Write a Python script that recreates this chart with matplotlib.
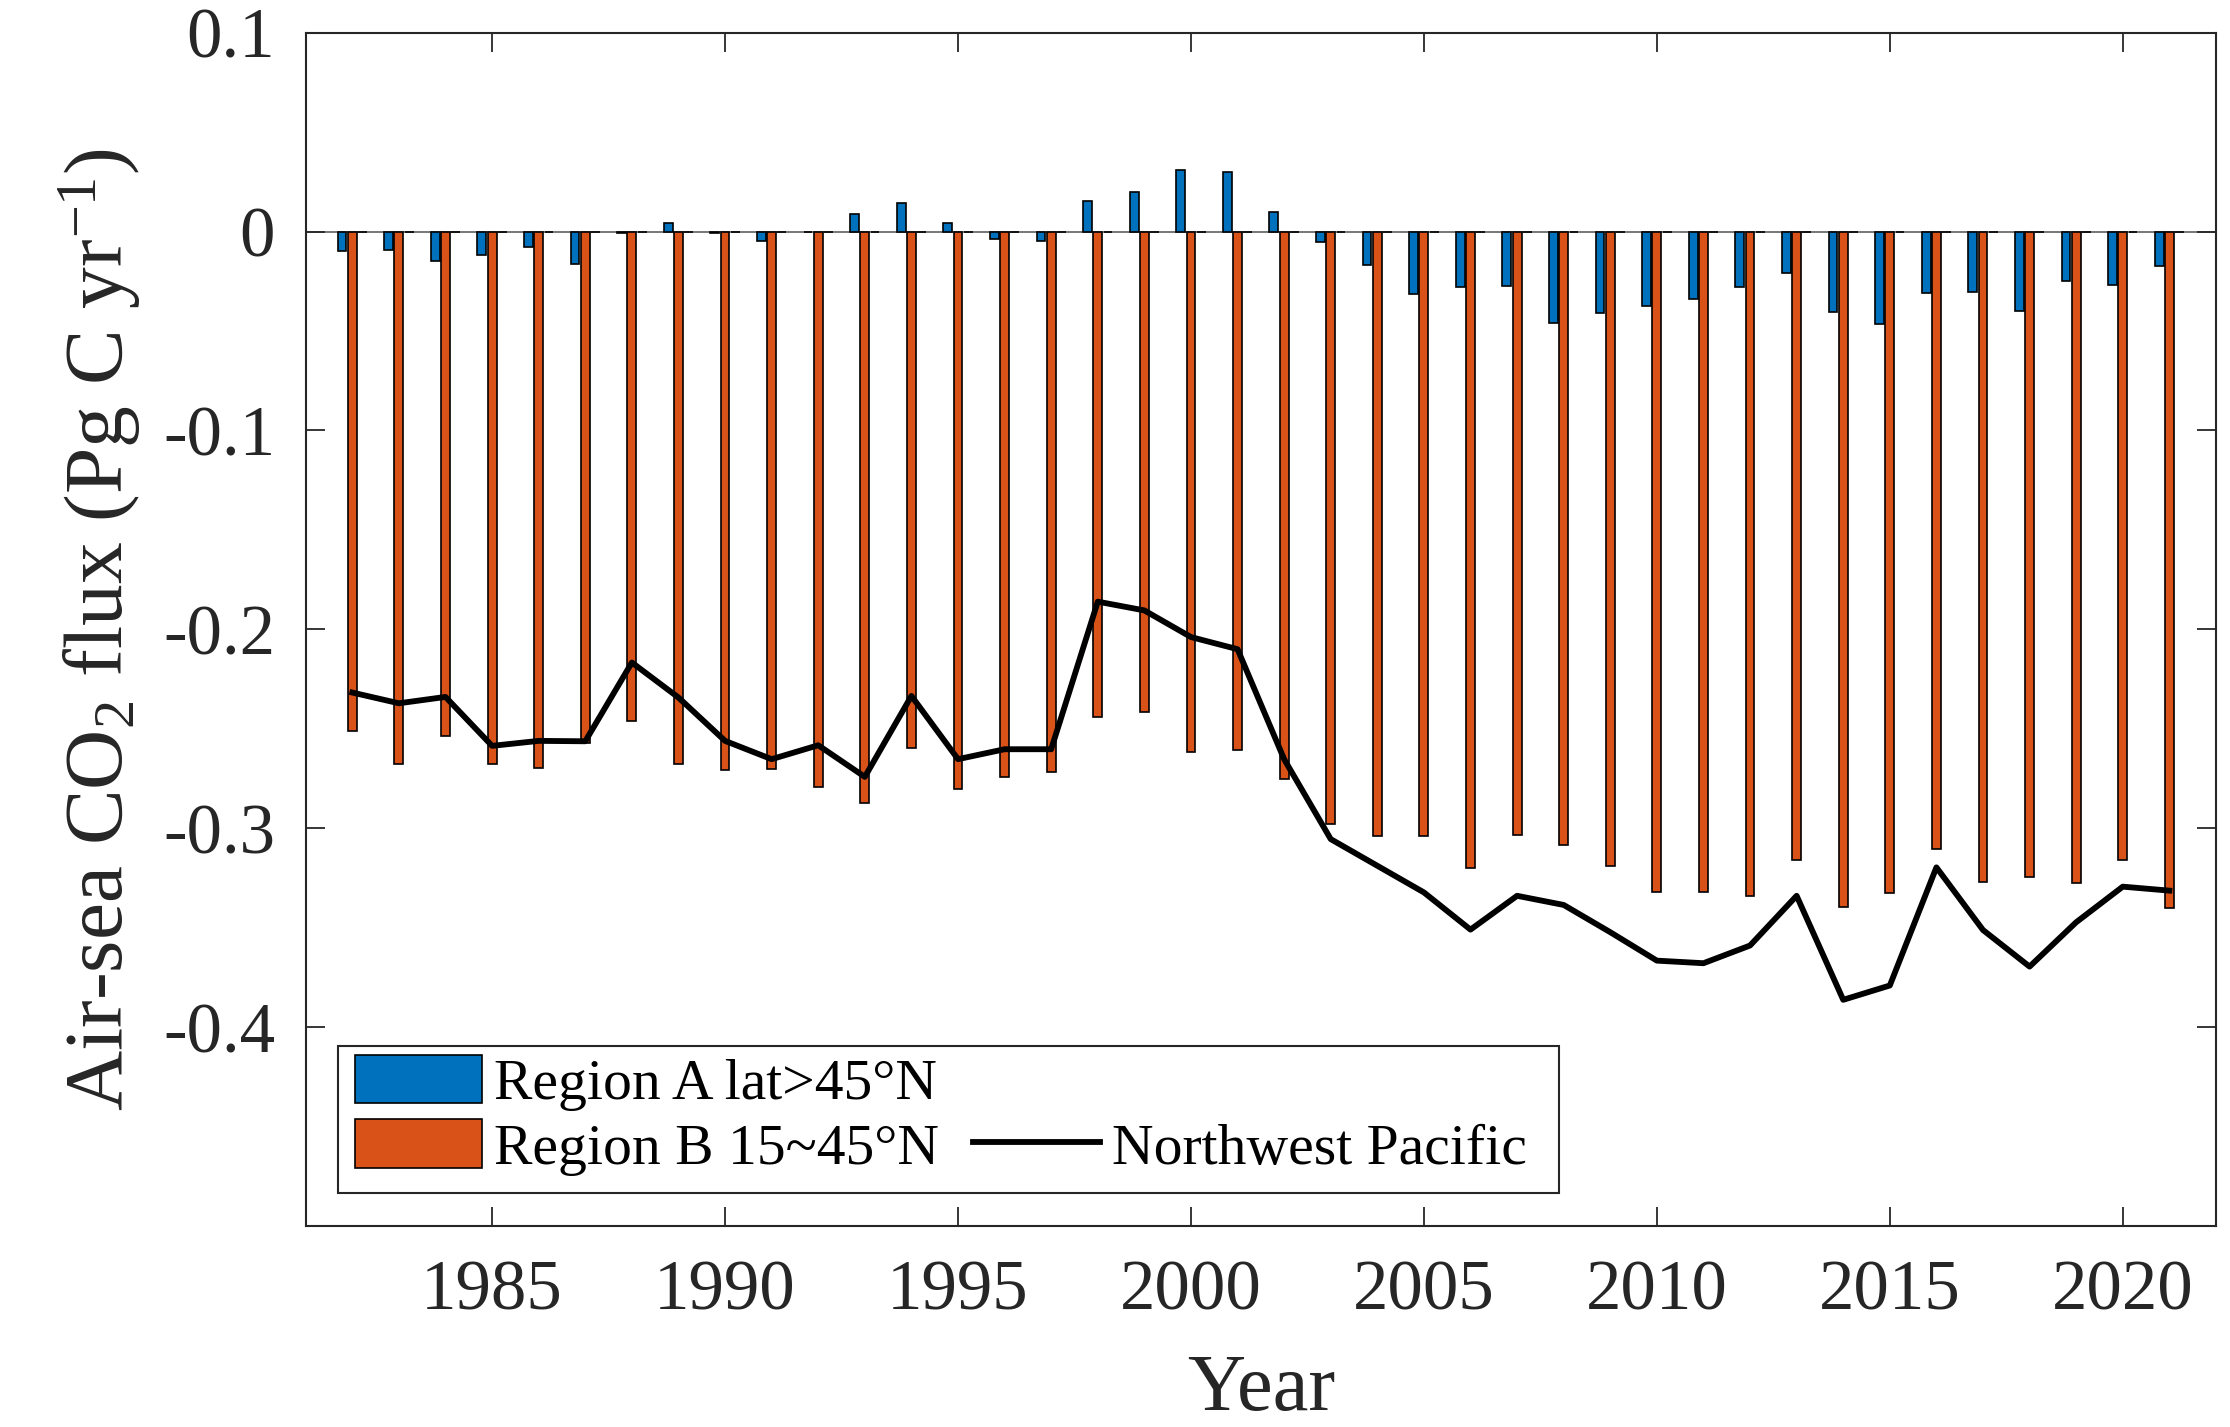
import numpy as np
import matplotlib
matplotlib.use("Agg")
import matplotlib.pyplot as plt
from matplotlib.lines import Line2D
from matplotlib.patches import Rectangle

# ---------------- data ----------------
years = list(range(1982, 2022))

region_a = [-0.0097, -0.0092, -0.0146, -0.0119, -0.0079, -0.0162, -0.0008, 0.0042, -0.0006, -0.0050,
            -0.0003, 0.0087, 0.0144, 0.0042, -0.0039, -0.0045, 0.0154, 0.0201, 0.0307, 0.0297,
            0.0099, -0.0055, -0.0168, -0.0313, -0.0278, -0.0276, -0.0462, -0.0410, -0.0375, -0.0340,
            -0.0278, -0.0209, -0.0402, -0.0464, -0.0308, -0.0303, -0.0399, -0.0250, -0.0268, -0.0173]

region_b = [-0.2511, -0.2678, -0.2536, -0.2678, -0.2695, -0.2570, -0.2460, -0.2675, -0.2707, -0.2700,
            -0.2795, -0.2874, -0.2598, -0.2804, -0.2742, -0.2720, -0.2439, -0.2415, -0.2619, -0.2609,
            -0.2753, -0.2979, -0.3041, -0.3041, -0.3200, -0.3035, -0.3083, -0.3192, -0.3323, -0.3323,
            -0.3340, -0.3160, -0.3398, -0.3328, -0.3105, -0.3272, -0.3244, -0.3278, -0.3160, -0.3400]

northwest_pacific = [-0.2318, -0.2372, -0.2340, -0.2586, -0.2561, -0.2563, -0.2167, -0.2343, -0.2561, -0.2653,
                     -0.2583, -0.2742, -0.2335, -0.2653, -0.2603, -0.2603, -0.1861, -0.1905, -0.2039, -0.2100,
                     -0.2653, -0.3055, -0.3189, -0.3323, -0.3510, -0.3340, -0.3386, -0.3523, -0.3666, -0.3679,
                     -0.3590, -0.3340, -0.3863, -0.3791, -0.3197, -0.3512, -0.3696, -0.3473, -0.3294, -0.3314]

zero_series = [0.0] * len(years)

xtick_values = [1985, 1990, 1995, 2000, 2005, 2010, 2015, 2020]
xtick_labels = ["1985", "1990", "1995", "2000", "2005", "2010", "2015", "2020"]
ytick_values = [-0.4, -0.3, -0.2, -0.1, 0.0, 0.1]
ytick_labels = ["-0.4", "-0.3", "-0.2", "-0.1", "0", "0.1"]

label_a = "Region A lat>45°N"
label_b = "Region B 15~45°N"
label_line = "Northwest Pacific"

# ---------------- style ----------------
plt.rcParams["font.family"] = ["Liberation Serif", "DejaVu Serif"]
plt.rcParams["mathtext.fontset"] = "custom"
plt.rcParams["mathtext.rm"] = "Liberation Serif"
plt.rcParams["mathtext.it"] = "Liberation Serif:italic"
plt.rcParams["mathtext.bf"] = "Liberation Serif:bold"
plt.rcParams["axes.unicode_minus"] = False

TXT = "#262626"
BLUE = "#0072BD"
ORANGE = "#D95319"

fig = plt.figure(figsize=(22.3, 14.27), dpi=100)
ax = fig.add_axes([0.1371, 0.1409, 0.8566, 0.8362])

x = np.array(years, dtype=float)
w = 0.19
ax.axhline(0, color="#606060", lw=1.2, zorder=1)
bars_a = ax.bar(x - 0.22, region_a, width=w, color=BLUE, edgecolor="black", linewidth=1.2, zorder=2, label=label_a)
bars_b = ax.bar(x, region_b, width=w, color=ORANGE, edgecolor="black", linewidth=1.2, zorder=2, label=label_b)
ax.bar(x + 0.22, zero_series, width=w, color="none", edgecolor="black", linewidth=1.2, zorder=2)
line, = ax.plot(x, northwest_pacific, color="black", lw=4.2, zorder=3, label=label_line)

ax.set_xlim(1981, 2022)
ax.set_ylim(-0.5, 0.1)
ax.set_xticks(xtick_values)
ax.set_xticklabels(xtick_labels)
ax.set_yticks(ytick_values)
ax.set_yticklabels(ytick_labels)

for s in ax.spines.values():
    s.set_color(TXT)
    s.set_linewidth(1.5)

ax.tick_params(axis="both", direction="in", length=14, width=1.3, colors=TXT,
               top=True, right=True, labelsize=51)
ax.tick_params(axis="x", pad=24)
ax.tick_params(axis="y", pad=22)

ax.set_xlabel("Year", fontsize=58, color=TXT)
ax.xaxis.set_label_coords(0.5, -0.107)
ax.set_ylabel("Air-sea CO$_2$ flux (Pg C yr$^{-1}$)", fontsize=60, color=TXT)
ax.yaxis.set_label_coords(-0.085, 0.5)

# legend frame (MATLAB-style box with extra right padding)
frame = Rectangle((0.0169, 0.0277), 0.6561 - 0.0169, 0.1508 - 0.0277, transform=ax.transAxes,
                  facecolor="white", edgecolor=TXT, linewidth=1.5, zorder=4.5)
ax.add_patch(frame)

blank = Line2D([], [], color="none")
leg = ax.legend([bars_a, bars_b, blank, line], [label_a, label_b, " ", label_line],
                ncol=2, loc="lower left", bbox_to_anchor=(0.0169, 0.0277),
                borderaxespad=0, fontsize=41.5, handlelength=2.2, handleheight=0.92,
                handletextpad=0.2, columnspacing=0.6, labelspacing=0.15, borderpad=0.3,
                frameon=False)
leg.set_zorder(5)
for t in leg.get_texts():
    t.set_color("black")

fig.savefig("out.png", dpi=100, facecolor="white")
